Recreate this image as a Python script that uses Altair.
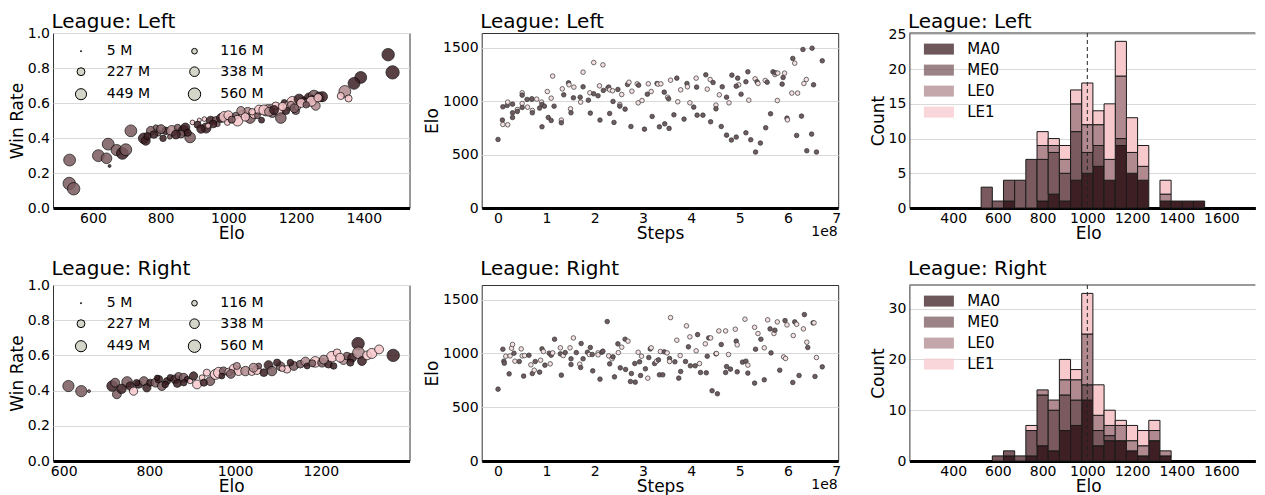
import altair as alt
import pandas as pd

FONT = "DejaVu Sans"
AGENTS = ["MA0", "ME0", "LE0", "LE1"]
AGENT_COLORS = ["#3d1f24", "#7a5a5f", "#b08a8e", "#f7c8cc"]
KINDS = ["d", "l"]
KIND_COLORS = ["#6e5c5f", "#f5e1e2"]
SIZE_LEGEND_VALUES = [5, 116, 227, 338, 449, 560]

W = 356.5
W_HIST = 346
H_TOP = 175
H_BOT = 176

# ---------------- Win rate vs Elo, League: Left ----------------
wl_elo = [1472, 1485, 1391, 1371, 1344, 1332, 1355, 531, 530, 543,
          616, 645, 640, 649, 670, 687, 697, 712, 750, 756,
          771, 793, 807, 815, 833, 827, 850, 868, 873, 887,
          894, 914, 929, 934, 948, 963, 978, 988, 1007, 1022,
          1042, 1057, 1064, 1076, 1091, 1098, 1111, 1125, 1130, 1150,
          1155, 1165, 1177, 1189, 1199, 1209, 1224, 1238, 1253, 1263,
          1273, 1258, 761, 786, 801, 860, 909, 919, 968, 997,
          1027, 1037, 1086, 1116, 1140, 1170, 1204, 1234, 1248, 1268,
          1278, 1000, 1050, 1070, 1105, 1120, 1160, 1185, 1215, 1245,
          1265, 955, 940, 880, 845, 780, 1135, 1195, 1230, 1010]
wl_rate = [0.876, 0.775, 0.746, 0.712, 0.666, 0.640, 0.626, 0.274, 0.140, 0.110,
           0.299, 0.365, 0.284, 0.240, 0.331, 0.312, 0.333, 0.441, 0.398, 0.384,
           0.441, 0.428, 0.398, 0.441, 0.441, 0.407, 0.460, 0.441, 0.460, 0.403,
           0.489, 0.502, 0.508, 0.457, 0.499, 0.502, 0.514, 0.521, 0.514, 0.527,
           0.537, 0.546, 0.514, 0.537, 0.561, 0.502, 0.546, 0.575, 0.537, 0.559,
           0.514, 0.603, 0.584, 0.607, 0.556, 0.622, 0.609, 0.632, 0.641, 0.622,
           0.626, 0.584, 0.411, 0.460, 0.451, 0.422, 0.476, 0.451, 0.480, 0.489,
           0.499, 0.556, 0.527, 0.571, 0.584, 0.556, 0.578, 0.603, 0.622, 0.641,
           0.636, 0.530, 0.520, 0.550, 0.560, 0.550, 0.580, 0.590, 0.600, 0.610,
           0.630, 0.480, 0.470, 0.430, 0.420, 0.420, 0.560, 0.570, 0.590, 0.505]
wl_steps = [560, 643, 508, 508, 508, 183, 183, 508, 560, 560,
            508, 508, 411, 32, 458, 508, 508, 508, 411, 286,
            286, 127, 154, 215, 411, 81, 154, 411, 286, 411,
            81, 62, 81, 367, 286, 183, 286, 411, 286, 183,
            215, 367, 411, 286, 325, 127, 183, 127, 183, 411,
            411, 127, 286, 411, 215, 367, 286, 286, 458, 127,
            154, 286, 183, 103, 286, 215, 183, 249, 103, 127,
            411, 249, 127, 183, 215, 215, 154, 215, 183, 215,
            367, 286, 249, 154, 367, 286, 249, 183, 286, 367,
            249, 215, 103, 183, 286, 215, 286, 286, 154, 183]
wl_agent = ["MA0", "MA0", "MA0", "MA0", "LE0", "LE1", "LE1", "ME0", "ME0", "ME0",
            "ME0", "ME0", "ME0", "MA0", "ME0", "MA0", "ME0", "ME0", "MA0", "MA0",
            "ME0", "ME0", "MA0", "MA0", "LE0", "ME0", "ME0", "MA0", "MA0", "ME0",
            "LE1", "LE1", "LE1", "MA0", "MA0", "ME0", "MA0", "LE1", "LE0", "ME0",
            "LE1", "LE0", "ME0", "LE1", "LE1", "MA0", "LE1", "LE1", "ME0", "LE1",
            "ME0", "MA0", "LE1", "LE1", "ME0", "MA0", "MA0", "MA0", "ME0", "LE1",
            "MA0", "LE0", "MA0", "ME0", "ME0", "ME0", "MA0", "MA0", "ME0", "LE1",
            "LE1", "LE0", "ME0", "LE0", "LE1", "MA0", "LE1", "LE0", "MA0", "ME0",
            "MA0", "LE1", "LE1", "LE1", "LE1", "LE0", "LE1", "LE0", "LE1", "LE1",
            "LE1", "MA0", "LE1", "MA0", "MA0", "MA0", "MA0", "ME0", "ME0", "ME0"]

# ---------------- Win rate vs Elo, League: Right ----------------
wr_elo = [611, 641, 659, 713, 720, 724, 748, 755, 763, 775,
          787, 794, 802, 814, 822, 829, 841, 849, 860, 868,
          880, 888, 895, 903, 911, 923, 934, 942, 954, 962,
          973, 985, 997, 1008, 1024, 1039, 1051, 1055, 1067, 1078,
          1086, 1106, 1121, 1137, 1152, 1164, 1168, 1187, 1203, 1218,
          1226, 1238, 1253, 1261, 1273, 1287, 1288, 1296, 1308, 1319,
          1336, 1369, 818, 837, 880, 927, 969, 1004, 1043, 1098,
          1129, 1207, 1230, 1245, 1269, 735, 770, 865, 990, 1180,
          1110]
wr_rate = [0.426, 0.397, 0.397, 0.426, 0.445, 0.379, 0.449, 0.426, 0.397, 0.435,
           0.454, 0.416, 0.445, 0.445, 0.464, 0.426, 0.454, 0.473, 0.464, 0.483,
           0.473, 0.464, 0.454, 0.483, 0.435, 0.473, 0.502, 0.454, 0.492, 0.502,
           0.511, 0.506, 0.525, 0.511, 0.511, 0.506, 0.517, 0.540, 0.502, 0.545,
           0.511, 0.538, 0.521, 0.540, 0.550, 0.565, 0.540, 0.563, 0.559, 0.550,
           0.593, 0.615, 0.574, 0.596, 0.587, 0.667, 0.615, 0.568, 0.600, 0.611,
           0.634, 0.600, 0.473, 0.435, 0.445, 0.445, 0.483, 0.540, 0.530, 0.559,
           0.559, 0.576, 0.540, 0.587, 0.559, 0.410, 0.445, 0.440, 0.495, 0.555,
           0.525]
wr_steps = [458, 458, 32, 411, 286, 286, 411, 249, 249, 215,
            286, 249, 183, 286, 215, 286, 183, 154, 286, 183,
            286, 127, 103, 249, 286, 127, 183, 286, 367, 411,
            249, 215, 286, 286, 325, 183, 286, 127, 215, 286,
            325, 286, 215, 286, 215, 286, 127, 411, 286, 215,
            411, 215, 286, 215, 286, 560, 508, 286, 286, 367,
            286, 560, 103, 154, 154, 183, 127, 183, 286, 183,
            154, 286, 154, 286, 183, 325, 154, 215, 286, 183,
            127]
wr_agent = ["ME0", "ME0", "ME0", "MA0", "ME0", "ME0", "ME0", "MA0", "LE1", "MA0",
            "ME0", "MA0", "MA0", "ME0", "MA0", "ME0", "MA0", "MA0", "MA0", "ME0",
            "ME0", "MA0", "LE1", "MA0", "LE1", "LE1", "LE1", "ME0", "LE1", "LE1",
            "ME0", "LE1", "LE1", "LE1", "LE0", "LE1", "LE1", "ME0", "MA0", "MA0",
            "ME0", "ME0", "LE1", "ME0", "ME0", "LE0", "MA0", "LE1", "ME0", "MA0",
            "LE1", "LE1", "LE0", "ME0", "MA0", "MA0", "LE0", "MA0", "LE1", "LE1",
            "LE1", "MA0", "MA0", "MA0", "MA0", "MA0", "MA0", "LE0", "LE0", "MA0",
            "MA0", "LE0", "MA0", "LE1", "MA0", "MA0", "MA0", "MA0", "ME0", "ME0",
            "LE1"]

# ---------------- Elo vs Steps (x 1e8), League: Left ----------------
sl_steps = [0.00, 0.09, 0.10, 0.20, 0.10, 0.19, 0.20, 0.30, 0.30, 0.30,
            0.40, 0.40, 0.50, 0.50, 0.50, 0.50, 0.60, 0.61, 0.70, 0.70,
            0.71, 0.71, 0.80, 0.86, 0.90, 0.91, 0.91, 0.96, 1.02, 1.04,
            1.10, 1.10, 1.13, 1.16, 1.31, 1.31, 1.33, 1.36, 1.46, 1.47,
            1.50, 1.51, 1.56, 1.57, 1.70, 1.71, 1.76, 1.76, 1.87, 1.90,
            1.91, 1.98, 1.98, 2.07, 2.10, 2.11, 2.17, 2.18, 2.27, 2.29,
            2.31, 2.37, 2.38, 2.40, 2.31, 2.48, 2.52, 2.52, 2.56, 2.63,
            2.68, 2.71, 2.75, 2.77, 2.88, 2.91, 2.90, 2.98, 3.03, 3.09,
            3.11, 3.17, 3.19, 3.29, 3.31, 3.34, 3.37, 3.44, 3.45, 3.51,
            3.53, 3.54, 3.57, 3.64, 3.70, 3.72, 3.78, 3.85, 3.91, 3.92,
            3.97, 4.05, 4.10, 4.11, 4.12, 4.24, 4.30, 4.33, 4.39, 4.40,
            4.45, 4.51, 4.51, 4.58, 4.62, 4.64, 4.73, 4.73, 4.78, 4.84,
            4.83, 4.93, 4.96, 4.98, 4.93, 5.03, 5.13, 5.13, 5.17, 5.19,
            5.23, 5.33, 5.32, 5.36, 5.38, 5.43, 5.53, 5.54, 5.57, 5.64,
            5.69, 5.73, 5.74, 5.79, 5.78, 5.88, 5.90, 5.93, 5.98, 5.99,
            6.10, 6.14, 6.08, 6.18, 6.20, 6.28, 6.31, 6.33, 6.38, 6.39,
            6.49, 6.50, 6.53, 6.59, 6.71]
sl_elo = [641, 822, 781, 778, 946, 959, 990, 971, 890, 846,
          921, 903, 1077, 1055, 977, 940, 1015, 943, 1015, 1021,
          912, 890, 1018, 934, 990, 759, 968, 952, 1089, 846,
          1027, 818, 1233, 952, 822, 797, 1114, 1058, 1170, 1152,
          927, 890, 1030, 1130, 1036, 990, 1270, 1133, 1008, 1077,
          887, 1360, 1068, 1049, 1142, 822, 1338, 1099, 1120, 1130,
          1105, 1096, 996, 800, 884, 1108, 968, 952, 1061, 924,
          1155, 1176, 762, 1092, 1161, 1148, 983, 1005, 737, 1064,
          1161, 1089, 856, 1164, 1158, 759, 1161, 1083, 787, 1036,
          1021, 744, 1195, 871, 1214, 993, 1105, 831, 1164, 1133,
          983, 943, 1214, 1130, 868, 868, 1245, 1111, 1201, 806,
          1173, 962, 927, 1058, 762, 1133, 1036, 681, 983, 1242,
          635, 663, 1214, 1152, 1139, 1064, 1180, 703, 1273, 1008,
          638, 523, 1208, 1180, 1164, 607, 1192, 750, 1176, 881,
          1273, 1248, 1264, 1261, 1005, 1158, 1220, 1261, 840, 824,
          1398, 1354, 1074, 678, 1074, 859, 1482, 1164, 1201, 535,
          691, 1494, 1152, 523, 1376]
sl_kind = ["d", "d", "l", "l", "d", "d", "l", "d", "d", "d",
           "l", "d", "l", "d", "l", "d", "d", "l", "l", "d",
           "l", "d", "l", "d", "l", "d", "d", "d", "l", "d",
           "l", "d", "l", "d", "l", "d", "l", "d", "d", "l",
           "l", "d", "d", "l", "d", "l", "l", "d", "d", "l",
           "d", "l", "d", "d", "l", "d", "l", "d", "l", "d",
           "l", "l", "d", "d", "d", "d", "l", "d", "l", "d",
           "d", "l", "d", "l", "l", "d", "l", "l", "d", "d",
           "l", "l", "d", "d", "l", "d", "l", "d", "d", "l",
           "d", "d", "l", "d", "d", "l", "l", "d", "d", "l",
           "l", "d", "l", "d", "d", "d", "d", "l", "l", "d",
           "d", "l", "d", "l", "d", "d", "d", "d", "l", "d",
           "d", "d", "d", "l", "d", "d", "d", "d", "d", "l",
           "d", "d", "l", "d", "l", "d", "l", "d", "d", "d",
           "d", "l", "d", "l", "l", "d", "d", "l", "d", "l",
           "d", "l", "l", "d", "l", "d", "d", "l", "l", "d",
           "d", "d", "d", "d", "d"]

# ---------------- Elo vs Steps (x 1e8), League: Right ----------------
sr_steps = [0.00, 0.10, 0.12, 0.13, 0.16, 0.23, 0.25, 0.28, 0.30, 0.33,
            0.35, 0.44, 0.48, 0.50, 0.53, 0.55, 0.64, 0.68, 0.71, 0.75,
            0.77, 0.86, 0.88, 0.91, 0.94, 0.97, 1.06, 1.08, 1.10, 1.13,
            1.17, 1.29, 1.29, 1.31, 1.35, 1.39, 1.49, 1.51, 1.51, 1.56,
            1.62, 1.69, 1.71, 1.72, 1.76, 1.85, 1.89, 1.91, 1.95, 1.96,
            2.07, 2.07, 2.11, 2.15, 2.17, 2.26, 2.29, 2.31, 2.36, 2.38,
            2.41, 2.48, 2.49, 2.53, 2.56, 2.63, 2.69, 2.64, 2.74, 2.76,
            2.83, 2.84, 2.90, 2.93, 2.95, 2.97, 3.05, 3.10, 3.12, 3.15,
            3.17, 3.24, 3.28, 3.32, 3.34, 3.36, 3.41, 3.44, 3.50, 3.55,
            3.55, 3.57, 3.66, 3.70, 3.74, 3.77, 3.78, 3.88, 3.90, 3.94,
            3.97, 3.98, 4.08, 4.10, 4.13, 4.17, 4.19, 4.29, 4.31, 4.33,
            4.36, 4.40, 4.43, 4.51, 4.52, 4.54, 4.57, 4.62, 4.71, 4.73,
            4.71, 4.77, 4.81, 4.91, 4.93, 4.95, 4.95, 5.06, 5.11, 5.13,
            5.17, 5.17, 5.31, 5.31, 5.33, 5.38, 5.44, 5.51, 5.51, 5.58,
            5.63, 5.65, 5.71, 5.73, 5.78, 5.83, 5.91, 5.95, 5.94, 5.98,
            6.10, 6.11, 6.14, 6.18, 6.23, 6.32, 6.34, 6.39, 6.41, 6.52,
            6.54, 6.56, 6.59, 6.71]
sr_elo = [668, 1039, 928, 909, 974, 810, 977, 1049, 1083, 1002,
          928, 925, 1042, 977, 789, 980, 983, 894, 813, 844,
          925, 826, 937, 1042, 1018, 891, 1002, 903, 983, 1005,
          1132, 1052, 996, 798, 980, 1008, 1052, 950, 897, 1144,
          1008, 900, 869, 1092, 950, 1011, 990, 1055, 990, 838,
          1005, 987, 761, 1011, 1021, 1296, 977, 903, 950, 968,
          782, 1089, 1008, 866, 1058, 1132, 1114, 851, 739, 813,
          906, 733, 1011, 922, 795, 974, 857, 770, 962, 1042,
          1052, 906, 928, 940, 801, 1018, 801, 1015, 1005, 953,
          925, 1333, 922, 1123, 770, 980, 832, 925, 1256, 1061,
          1154, 885, 885, 1024, 1175, 906, 823, 1089, 820, 974,
          1144, 1144, 653, 996, 999, 625, 1209, 1083, 1209, 878,
          823, 990, 854, 1225, 1114, 1080, 829, 919, 1318, 928,
          891, 817, 1243, 724, 1039, 1185, 1132, 1052, 755, 1312,
          1228, 1005, 1185, 1216, 1293, 844, 968, 953, 1305, 1265,
          730, 1166, 1293, 1271, 795, 1228, 1361, 1104, 1055, 1284,
          1284, 786, 962, 875]
sr_kind = ["d", "d", "d", "d", "l", "d", "l", "l", "l", "d",
           "l", "d", "l", "l", "d", "l", "d", "l", "d", "l",
           "d", "d", "l", "d", "l", "d", "d", "l", "d", "l",
           "d", "l", "d", "d", "l", "d", "l", "d", "d", "l",
           "d", "l", "d", "d", "d", "d", "l", "d", "d", "d",
           "l", "l", "d", "d", "d", "d", "l", "d", "l", "d",
           "d", "d", "l", "d", "l", "d", "l", "d", "d", "d",
           "d", "d", "l", "d", "d", "l", "d", "l", "d", "d",
           "l", "d", "l", "d", "d", "l", "d", "d", "l", "d",
           "l", "l", "d", "l", "d", "l", "d", "d", "l", "d",
           "l", "d", "d", "l", "d", "l", "d", "l", "d", "d",
           "d", "l", "d", "d", "l", "d", "l", "d", "l", "d",
           "d", "l", "d", "l", "d", "l", "d", "d", "l", "d",
           "l", "d", "l", "d", "d", "l", "d", "l", "d", "l",
           "d", "d", "l", "d", "l", "d", "l", "l", "d", "l",
           "d", "l", "d", "l", "d", "l", "d", "l", "d", "d",
           "l", "d", "l", "d"]

# ---------------- Elo histograms (stacked, bin width 50) ----------------
BIN = 50
hl_start = [525, 575, 625, 675, 725, 775, 825, 875, 925, 975,
            1025, 1075, 1125, 1175, 1225, 1275, 1325, 1375, 1425, 1475]
hl_counts = {
    "MA0": [0, 0, 1, 0, 0, 1, 2, 1, 4, 5, 6, 4, 9, 5, 4, 0, 1, 1, 1, 1],
    "ME0": [3, 1, 3, 4, 7, 6, 6, 4, 7, 3, 3, 0, 1, 0, 0, 0, 0, 0, 0, 0],
    "LE0": [0, 0, 0, 0, 0, 2, 1, 2, 4, 4, 3, 3, 9, 3, 2, 0, 1, 0, 0, 0],
    "LE1": [0, 0, 0, 0, 0, 2, 1, 2, 2, 6, 2, 8, 5, 5, 3, 0, 2, 0, 0, 0],
}
hr_start = [575, 625, 675, 725, 775, 825, 875, 925, 975, 1025,
            1075, 1125, 1175, 1225, 1275, 1325]
hr_counts = {
    "MA0": [0, 1, 0, 1, 3, 2, 6, 7, 12, 3, 4, 4, 2, 1, 4, 1],
    "ME0": [1, 1, 1, 5, 10, 8, 7, 5, 3, 3, 1, 0, 0, 0, 0, 0],
    "LE0": [0, 0, 0, 0, 1, 2, 3, 4, 10, 3, 2, 3, 2, 2, 2, 1],
    "LE1": [0, 0, 0, 1, 0, 0, 4, 2, 8, 6, 3, 1, 3, 3, 2, 0],
}
HIST_DOMAIN = [204, 1752]

# extent (top, bottom) kept around each plot area, and title baseline offset, in px
ROW1_TB = (23.8, 40)
ROW2_TB = (30, 36)
ROW1_TITLE_Y = -5.5
ROW2_TITLE_Y = -9.6


def y_axis(title, values, fmt, title_x, domain=False):
    kw = dict(title=title, values=values, format=fmt, titleX=title_x,
              titleBaseline="middle", grid=True, domain=domain)
    if domain:
        kw.update(domainColor="#333333", domainWidth=1)
    return alt.Axis(**kw)


def x_axis(title, values, fmt, title_x=None):
    kw = dict(title=title, values=values, format=fmt, grid=False)
    if title_x is not None:
        kw["titleX"] = title_x
    return alt.Axis(**kw)


def panel_title(text, ty):
    return alt.Chart(pd.DataFrame({"t": [text]})).mark_text(
        align="left", baseline="alphabetic", fontSize=20, font=FONT, color="black"
    ).encode(x=alt.value(-1.5), y=alt.value(ty), text="t:N")


def spacers(left, right, width, h, tb):
    # invisible guide lines that fix the extent of each panel
    top, bottom = tb
    base = alt.Chart(pd.DataFrame({"v": [0]}))
    horiz = base.mark_rule(opacity=0, strokeWidth=1).encode(
        x=alt.value(-left), x2=alt.value(width + right), y=alt.value(h / 2))
    vert = base.mark_rule(opacity=0, strokeWidth=1).encode(
        x=alt.value(width / 2), y=alt.value(-top), y2=alt.value(h + bottom))
    return [horiz, vert]


def winrate_panel(elo, rate, steps, agent, xdom, xticks, text, h, tb, ty):
    df = pd.DataFrame({"elo": elo, "rate": rate, "steps": steps, "agent": agent})
    pts = alt.Chart(df).mark_circle(
        opacity=0.85, stroke="black", strokeWidth=0.8
    ).encode(
        x=alt.X("elo:Q", scale=alt.Scale(domain=xdom, nice=False, zero=False),
                axis=x_axis("Elo", xticks, "d")),
        y=alt.Y("rate:Q", scale=alt.Scale(domain=[0, 1], nice=False),
                axis=y_axis("Win Rate", [0, 0.2, 0.4, 0.6, 0.8, 1.0], ".1f", -35.2)),
        size=alt.Size("steps:Q", scale=alt.Scale(domain=[0, 560], range=[0, 154]),
                      legend=alt.Legend(
                          title=None, values=SIZE_LEGEND_VALUES,
                          labelExpr="datum.value + ' M'", orient="none",
                          legendX=21, legendY=11.2, columns=2, direction="horizontal",
                          columnPadding=34.5,
                          rowPadding=6.5, labelOffset=18.8, padding=0,
                          symbolFillColor="#d3d6c9", symbolStrokeColor="black",
                          symbolStrokeWidth=1, symbolOpacity=1,
                          labelFontSize=14, labelFont=FONT, labelColor="black")),
        color=alt.Color("agent:N", scale=alt.Scale(domain=AGENTS, range=AGENT_COLORS),
                        legend=None),
    )
    return alt.layer(pts, panel_title(text, ty), *spacers(44.2, 6, W, h, tb)).properties(
        width=W, height=h)


def steps_panel(steps, elo, kind, text, h, tb, ty):
    df = pd.DataFrame({"steps": steps, "elo": elo, "kind": kind})
    pts = alt.Chart(df).mark_circle(size=21, opacity=1, stroke="#333333",
                                    strokeWidth=0.7).encode(
        x=alt.X("steps:Q", scale=alt.Scale(domain=[-0.338, 7.04], nice=False, zero=False),
                axis=x_axis("Steps", [0, 1, 2, 3, 4, 5, 6, 7], "d")),
        y=alt.Y("elo:Q", scale=alt.Scale(domain=[0, 1636], nice=False),
                axis=y_axis("Elo", [0, 500, 1000, 1500], "d", -49.3)),
        color=alt.Color("kind:N", scale=alt.Scale(domain=KINDS, range=KIND_COLORS),
                        legend=None),
    )
    offset_txt = alt.Chart(pd.DataFrame({"t": ["1e8"]})).mark_text(
        align="right", baseline="alphabetic", fontSize=14, font=FONT, color="black"
    ).encode(x=alt.value(W - 0.5), y=alt.value(h + 27.7), text="t:N")
    return alt.layer(pts, offset_txt, panel_title(text, ty),
                     *spacers(62, 6, W, h, tb)).properties(width=W, height=h)


def hist_panel(starts, counts, ymax, yticks, text, h, tb, ty):
    rows = []
    for i, a in enumerate(AGENTS):
        for s, c in zip(starts, counts[a]):
            if c > 0:
                rows.append({"start": s, "end": s + BIN, "count": c, "series": a, "order": i})
    df = pd.DataFrame(rows)
    xs = alt.Scale(domain=HIST_DOMAIN, nice=False, zero=False)
    bars = alt.Chart(df).transform_stack(
        stack="count", as_=["y0", "y1"], groupby=["start"], sort=[alt.SortField("order")]
    ).mark_bar(stroke="#1a1a1a", strokeWidth=1).encode(
        x=alt.X("start:Q", scale=xs,
                axis=x_axis("Elo", [400, 600, 800, 1000, 1200, 1400, 1600], "d", 178.7)),
        x2="end:Q",
        y=alt.Y("y0:Q", scale=alt.Scale(domain=[0, ymax], nice=False),
                axis=y_axis("Count", yticks, "d", -31, domain=True)),
        y2="y1:Q",
        color=alt.Color("series:N", scale=alt.Scale(domain=AGENTS, range=AGENT_COLORS),
                        legend=alt.Legend(
                            title=None, orient="none", legendX=22, legendY=8.6,
                            symbolType="M-2.727,-1H2.727V1H-2.727Z", symbolSize=121,
                            symbolOpacity=0.75, symbolStrokeWidth=0, labelFontSize=15,
                            labelOffset=20.8, rowPadding=5, padding=0,
                            labelFont=FONT, labelColor="black")),
        order=alt.Order("order:Q"),
    )
    ref = alt.Chart(pd.DataFrame({"elo": [1000]})).mark_rule(
        color="#222222", strokeWidth=1, strokeDash=[4, 3]).encode(x=alt.X("elo:Q", scale=xs))
    top = alt.Chart(pd.DataFrame({"v": [0]})).mark_rule(color="#333333", strokeWidth=1).encode(
        x=alt.value(0), x2=alt.value(W_HIST), y=alt.value(0))
    return alt.layer(bars, ref, top, panel_title(text, ty),
                     *spacers(62, 0, W_HIST, h, tb)).properties(
        width=W_HIST, height=h, view=alt.ViewBackground(strokeWidth=0))


p1 = winrate_panel(wl_elo, wl_rate, wl_steps, wl_agent, [482, 1535],
                   [600, 800, 1000, 1200, 1400], "League: Left", H_TOP, ROW1_TB, ROW1_TITLE_Y)
p2 = steps_panel(sl_steps, sl_elo, sl_kind, "League: Left", H_TOP, ROW1_TB, ROW1_TITLE_Y)
p3 = hist_panel(hl_start, hl_counts, 25.2, [0, 5, 10, 15, 20, 25], "League: Left",
                H_TOP, ROW1_TB, ROW1_TITLE_Y)
p4 = winrate_panel(wr_elo, wr_rate, wr_steps, wr_agent, [575, 1407],
                   [600, 800, 1000, 1200], "League: Right", H_BOT, ROW2_TB, ROW2_TITLE_Y)
p5 = steps_panel(sr_steps, sr_elo, sr_kind, "League: Right", H_BOT, ROW2_TB, ROW2_TITLE_Y)
p6 = hist_panel(hr_start, hr_counts, 34.65, [0, 10, 20, 30], "League: Right",
                H_BOT, ROW2_TB, ROW2_TITLE_Y)


def row(*panels):
    return alt.hconcat(*panels, spacing=2.7).resolve_scale(
        color="independent", size="independent"
    ).resolve_legend(color="independent", size="independent")


chart = alt.vconcat(row(p1, p2, p3), row(p4, p5, p6), spacing=5).resolve_scale(
    color="independent", size="independent"
).resolve_legend(
    color="independent", size="independent"
).properties(
    padding={"left": 0, "top": 0, "right": 0, "bottom": 0}
).configure_view(
    stroke="#333333", strokeWidth=1
).configure_axis(
    labelFont=FONT, titleFont=FONT, labelFontSize=14, titleFontSize=17,
    labelColor="black", titleColor="black", titleFontWeight="normal",
    ticks=False, tickSize=0, labelPadding=3.5, gridColor="#d9d9d9", gridWidth=1,
    labelFlush=False, labelOverlap=False
).configure_axisX(
    domainColor="black", domainWidth=3, titleBaseline="alphabetic", titleY=30.5
).configure_legend(
    labelFont=FONT, labelColor="black"
)

chart.save("out.html", embed_options={"renderer": "svg", "actions": False})
